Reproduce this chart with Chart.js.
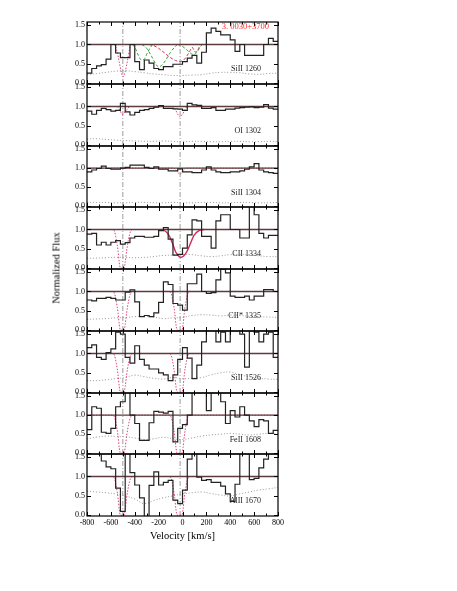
<!DOCTYPE html>
<html>
<head>
<meta charset="utf-8">
<script src="https://cdn.jsdelivr.net/npm/chart.js@4.4.1/dist/chart.umd.min.js"></script>
<style>
  body { margin: 0; background: #fff; width: 457px; height: 591px; position: relative; overflow: hidden;
         font-family: 'Liberation Serif', 'Times New Roman', serif; }
  .panel { position: absolute; left: 0; width: 457px; }
  .axis-title { position: absolute; font-size: 10.5px; color: #000; white-space: nowrap; }
  #ytitle { left: 56px; top: 268px; transform: translate(-50%, -50%) rotate(-90deg); }
  #xtitle { left: 87px; width: 191px; top: 530px; text-align: center; }
</style>
</head>
<body>
<div id="stack"></div>
<div class="axis-title" id="ytitle">Normalized Flux</div>
<div class="axis-title" id="xtitle">Velocity [km/s]</div>

<script>
/* ---- DATA ---- */

// bin centres of the spectra, km/s
const velocity = [-780, -740, -700, -660, -620, -580, -540, -500, -460, -420,
  -380, -340, -300, -260, -220, -180, -140, -100, -60, -20,
  20, 60, 100, 140, 180, 220, 260, 300, 340, 380,
  420, 460, 500, 540, 580, 620, 660, 700, 740, 780];

// grid of the error spectra
const errVelocity = [-800, -720, -640, -560, -480, -400, -320, -240, -160, -80, 0,
  80, 160, 240, 320, 400, 480, 560, 640, 720, 800];

const lineLabels = ['SiII 1260', 'OI 1302', 'SiII 1304', 'CII 1334', 'CII* 1335', 'SiII 1526', 'FeII 1608', 'AlII 1670'];
const objectName = '3. 0030+3700';
const componentVel = [-500, -20];
const continuum = 1.0;

const fluxSiII1260 = [0.26, 0.38, 0.45, 0.48, 0.62, 1.0, 0.78, 0.66, 0.66, 1.0,
  0.56, 0.35, 0.6, 0.52, 0.38, 0.35, 0.43, 0.43, 0.49, 0.49,
  0.56, 0.65, 0.72, 0.52, 0.8, 1.3, 1.42, 1.34, 1.25, 1.25,
  1.12, 0.82, 1.0, 0.72, 0.72, 0.72, 0.72, 1.0, 1.16, 1.08];
const fluxOI1302 = [0.88, 0.8, 0.9, 0.95, 0.92, 0.88, 0.9, 1.08, 0.86, 0.78,
  0.85, 0.9, 0.92, 0.95, 0.98, 1.02, 0.95, 0.95, 0.94, 0.93,
  0.9, 1.08, 1.04, 1.03, 0.95, 0.95, 0.97, 0.9, 0.9, 0.93,
  0.93, 0.96, 0.97, 0.98, 0.99, 0.97, 0.98, 1.05, 0.96, 0.93];
const fluxSiII1304 = [0.9, 0.95, 0.99, 1.05, 0.99, 0.97, 0.97, 1.0, 1.02, 1.08,
  1.08, 1.08, 1.02, 0.99, 1.03, 0.97, 0.97, 0.93, 0.93, 0.98,
  0.9, 0.9, 0.88, 0.88, 0.95, 1.03, 0.95, 0.9, 0.88, 0.88,
  0.9, 0.9, 0.93, 0.97, 1.03, 1.12, 0.95, 0.9, 0.88, 0.86];
const fluxCII1334 = [0.88, 0.9, 0.6, 0.67, 0.6, 0.67, 0.71, 0.62, 0.66, 0.78,
  0.82, 0.82, 0.8, 0.8, 0.82, 0.97, 1.05, 0.75, 0.34, 0.36,
  0.52, 0.86, 1.25, 1.22, 0.82, 0.82, 0.52, 1.22, 1.38, 1.38,
  1.0, 1.0, 0.78, 0.78, 1.62, 1.38, 0.9, 0.78, 0.85, 0.85];
const fluxCIIs1335 = [0.78, 0.76, 0.82, 0.82, 0.85, 0.82, 0.78, 0.78, 0.98, 1.04,
  0.73, 0.35, 0.38, 0.35, 0.45, 0.72, 1.25, 1.18, 0.69, 0.65,
  0.52, 1.2, 1.2, 1.45, 1.0, 0.95, 0.97, 1.3, 1.57, 1.48,
  0.88, 0.85, 0.85, 0.88, 0.78, 0.88, 0.88, 1.05, 1.05, 1.0];
const fluxSiII1526 = [1.15, 1.22, 0.9, 0.85, 1.02, 1.12, 1.55, 1.5, 0.9, 0.75,
  1.2, 0.85, 0.7, 0.6, 0.6, 0.5, 0.45, 0.3, 0.45, 0.85,
  1.15, 0.88, 0.35, 0.7, 1.3, 1.6, 1.6, 1.3, 1.55, 1.3,
  1.6, 1.6, 1.5, 0.65, 1.6, 1.55, 1.3, 1.5, 1.55, 0.9];
const fluxFeII1608 = [0.62, 1.22, 1.18, 0.55, 0.52, 0.65, 1.22, 1.35, 1.6, 1.0,
  0.78, 0.34, 0.34, 0.8, 1.1, 1.08, 1.05, 1.1, 0.3, 0.65,
  0.75, 1.0, 1.6, 1.6, 1.6, 1.12, 1.6, 1.6, 1.35, 0.78,
  1.12, 0.95, 1.22, 1.0, 0.85, 0.7, 0.88, 0.85, 0.52, 0.6];
const fluxAlII1670 = [1.7, 1.7, 1.7, 1.4, 1.25, 1.2, 0.7, 0.1, 1.7, 1.1,
  0.78, 0.45, -0.1, 0.77, 1.12, 0.78, 0.85, 0.9, 0.39, 0.3,
  0.65, 1.45, 1.7, 0.98, 0.9, 0.92, 0.85, 0.85, 0.75, 0.55,
  0.36, 0.8, 1.7, 1.7, 0.92, 0.95, 1.22, 1.45, 1.7, 1.7];

const errSiII1260 = [0.22, 0.25, 0.28, 0.31, 0.32, 0.3, 0.27, 0.24, 0.22, 0.2, 0.2, 0.21, 0.22, 0.26, 0.28, 0.28, 0.27, 0.24, 0.23, 0.25, 0.26];
const errOI1302 = [0.16, 0.17, 0.15, 0.13, 0.12, 0.11, 0.1, 0.1, 0.11, 0.1, 0.09, 0.1, 0.1, 0.09, 0.09, 0.1, 0.1, 0.09, 0.09, 0.1, 0.1];
const errSiII1304 = [0.1, 0.1, 0.1, 0.09, 0.09, 0.1, 0.1, 0.09, 0.09, 0.1, 0.09, 0.09, 0.1, 0.1, 0.09, 0.09, 0.1, 0.1, 0.09, 0.09, 0.1];
const errCII1334 = [0.26, 0.26, 0.27, 0.28, 0.28, 0.27, 0.28, 0.3, 0.33, 0.34, 0.36, 0.35, 0.32, 0.3, 0.32, 0.35, 0.36, 0.35, 0.32, 0.3, 0.3];
const errCIIs1335 = [0.28, 0.29, 0.3, 0.32, 0.33, 0.35, 0.36, 0.34, 0.3, 0.32, 0.33, 0.38, 0.4, 0.39, 0.37, 0.39, 0.38, 0.36, 0.35, 0.34, 0.33];
const errSiII1526 = [0.3, 0.3, 0.32, 0.35, 0.38, 0.44, 0.4, 0.36, 0.34, 0.38, 0.35, 0.36, 0.38, 0.45, 0.5, 0.52, 0.45, 0.4, 0.36, 0.34, 0.33];
const errFeII1608 = [0.38, 0.42, 0.45, 0.44, 0.43, 0.4, 0.36, 0.38, 0.42, 0.38, 0.36, 0.4, 0.45, 0.48, 0.5, 0.52, 0.5, 0.48, 0.5, 0.52, 0.5];
const errAlII1670 = [0.62, 0.6, 0.58, 0.55, 0.5, 0.42, 0.3, 0.38, 0.45, 0.5, 0.55, 0.58, 0.6, 0.56, 0.52, 0.5, 0.55, 0.6, 0.65, 0.68, 0.72];

const modelVelSiII1260 = [-800, -575, -550, -530, -510, -497, -480, -460, -445, -430, 800];
const modelSiII1260 = [1, 1, 0.85, 0.55, 0.25, 0.17, 0.3, 0.6, 0.85, 1, 1];
const fitVelSiII1260 = [-280, -240, -200, -150, -100, -60, -25, 10, 40, 65, 80, 95, 110, 128, 150];
const fitSiII1260 = [1, 0.97, 0.9, 0.78, 0.66, 0.59, 0.56, 0.6, 0.72, 0.85, 0.93, 0.86, 0.8, 0.86, 1];
const comp1Vel = [-420, -395, -370, -345, -320, -295, -270, -250];
const comp1 = [1, 0.9, 0.72, 0.6, 0.62, 0.78, 0.92, 1];
const comp2Vel = [-340, -300, -260, -225, -200, -175, -140, -100, -60, -40];
const comp2 = [1, 0.9, 0.7, 0.5, 0.42, 0.46, 0.6, 0.8, 0.95, 1];
const comp3Vel = [-40, 0, 40, 75, 95, 120, 145, 165];
const comp3 = [1, 0.95, 0.85, 0.76, 0.74, 0.8, 0.92, 1];

const modelVelOI1302 = [-800, -550, -525, -505, -490, -465, -440, -85, -60, -40, -22, 0, 20, 40, 800];
const modelOI1302 = [1, 1, 0.9, 0.8, 0.82, 0.92, 1, 1, 0.92, 0.8, 0.73, 0.8, 0.92, 1, 1];
const modelVelSiII1304 = [-800, -75, -50, -22, 5, 30, 800];
const modelSiII1304 = [1, 1, 0.93, 0.84, 0.93, 1, 1];

const modelVelCII1334 = [-800, -590, -570, -555, -540, -530, -520, -490, -480, -468, -452, -435, -410, 800];
const modelCII1334 = [1, 1, 0.95, 0.75, 0.45, 0.15, 0, 0, 0.15, 0.45, 0.75, 0.95, 1, 1];
const fitVelCII1334 = [-185, -155, -113, -85, -57, -29, -15, 12, 40, 68, 96, 138, 180];
const fitCII1334 = [1, 0.98, 0.85, 0.65, 0.42, 0.3, 0.28, 0.32, 0.45, 0.65, 0.85, 0.97, 1];

// saturated two-component profile (CII*, SiII 1526, FeII, AlII)
const satVel = [-800, -590, -570, -555, -540, -530, -520, -490, -480, -468, -452, -435, -410,
  -115, -95, -80, -65, -55, -45, -5, 5, 15, 30, 45, 65, 800];
const satFlux = [1, 1, 0.95, 0.75, 0.45, 0.15, 0, 0, 0.15, 0.45, 0.75, 0.95, 1,
  1, 0.95, 0.75, 0.45, 0.15, 0, 0, 0.15, 0.45, 0.75, 0.95, 1, 1];

// axis
const velMin = -800, velMax = 800;
const fluxMin = -0.02, fluxMax = 1.58;
const yTickValues = [0, 0.5, 1.0, 1.5];
const xMajorTicks = [-800, -600, -400, -200, 0, 200, 400, 600, 800];
const xMinorTicks = [-700, -500, -300, -100, 100, 300, 500, 700];

/* ---- STYLE ---- */
const PINK = '#e2407a';
const RED = '#d0285a';
const GREEN = '#33a033';
const FONT = "'Liberation Serif', 'Times New Roman', serif";
const panelEdges = [22, 84, 146, 207, 269, 331, 393, 454, 516];
const PAD = 12;
const XAXIS_H = 14;

const pinkDotted = (vel, flux) => ({ vel, flux, color: PINK, width: 1, dash: [1.5, 1.5] });
const panels = [
  { flux: fluxSiII1260, err: errSiII1260, models: [
      pinkDotted(modelVelSiII1260, modelSiII1260),
      { vel: fitVelSiII1260, flux: fitSiII1260, color: RED, width: 1, dash: [3, 2] },
      { vel: comp1Vel, flux: comp1, color: GREEN, width: 1, dash: [3, 2] },
      { vel: comp2Vel, flux: comp2, color: GREEN, width: 1, dash: [3, 2] },
      { vel: comp3Vel, flux: comp3, color: GREEN, width: 1, dash: [3, 2] }] },
  { flux: fluxOI1302, err: errOI1302, models: [pinkDotted(modelVelOI1302, modelOI1302)] },
  { flux: fluxSiII1304, err: errSiII1304, models: [pinkDotted(modelVelSiII1304, modelSiII1304)] },
  { flux: fluxCII1334, err: errCII1334, models: [
      pinkDotted(modelVelCII1334, modelCII1334),
      { vel: fitVelCII1334, flux: fitCII1334, color: RED, width: 1.4, dash: [] }] },
  { flux: fluxCIIs1335, err: errCIIs1335, models: [pinkDotted(satVel, satFlux)] },
  { flux: fluxSiII1526, err: errSiII1526, models: [pinkDotted(satVel, satFlux)] },
  { flux: fluxFeII1608, err: errFeII1608, models: [pinkDotted(satVel, satFlux)] },
  { flux: fluxAlII1670, err: errAlII1670, models: [pinkDotted(satVel, satFlux)] },
];

/* ---- HELPERS ---- */
function toPoints(vel, flux) {
  return vel.map((v, i) => ({ x: v, y: flux[i] }));
}
// histogram: bin centres plus the two outer edges
function toSteps(vel, flux) {
  const pts = toPoints(vel, flux);
  pts.unshift({ x: velMin, y: flux[0] });
  pts.push({ x: velMax, y: flux[flux.length - 1] });
  return pts;
}

// frame, inward ticks and the text inside each panel
const panelFrame = {
  id: 'panelFrame',
  afterDatasetsDraw(chart, args, opts) {
    const { ctx, chartArea: a, scales: { x, y } } = chart;
    ctx.save();
    ctx.strokeStyle = '#000';
    ctx.lineWidth = 1;
    ctx.beginPath();
    xMajorTicks.concat(xMinorTicks).forEach(v => {
      const px = Math.round(x.getPixelForValue(v)) + 0.5;
      const len = xMajorTicks.includes(v) ? 4 : 2.5;
      ctx.moveTo(px, a.top); ctx.lineTo(px, a.top + len);
      ctx.moveTo(px, a.bottom); ctx.lineTo(px, a.bottom - len);
    });
    yTickValues.forEach(v => {
      const py = Math.round(y.getPixelForValue(v)) + 0.5;
      ctx.moveTo(a.left, py); ctx.lineTo(a.left + 4, py);
      ctx.moveTo(a.right, py); ctx.lineTo(a.right - 4, py);
    });
    ctx.stroke();
    ctx.lineWidth = 1.2;
    ctx.strokeRect(a.left, a.top, a.right - a.left, a.bottom - a.top);

    ctx.textAlign = 'right';
    ctx.textBaseline = 'middle';
    ctx.fillStyle = '#222';
    ctx.font = '8px ' + FONT;
    ctx.fillText(opts.label, a.right - 17, a.top + 46.5);
    if (opts.title) {
      ctx.fillStyle = '#ff2d2d';
      ctx.font = '8.5px ' + FONT;
      ctx.fillText(opts.title, a.right - 9, a.top + 5);
    }
    ctx.restore();
  }
};

/* ---- CHARTS ---- */
function buildPanel(p, i) {
  const isLast = i === panels.length - 1;
  const top = panelEdges[i];
  const h = panelEdges[i + 1] - top;
  const canvasH = PAD + h + (isLast ? XAXIS_H : PAD);

  const box = document.createElement('div');
  box.className = 'panel';
  box.style.top = (top - PAD) + 'px';
  box.style.height = canvasH + 'px';
  const canvas = document.createElement('canvas');
  canvas.width = 457;
  canvas.height = canvasH;
  box.appendChild(canvas);
  document.getElementById('stack').appendChild(box);

  // first dataset is drawn on top
  const datasets = [
    { data: toSteps(velocity, p.flux), borderColor: '#222', borderWidth: 1.2, stepped: 'middle' },
    { data: [{ x: velMin, y: continuum }, { x: velMax, y: continuum }], borderColor: '#5e3c3c', borderWidth: 1.3 }
  ];
  p.models.forEach(m => datasets.push({
    data: toPoints(m.vel, m.flux), borderColor: m.color, borderWidth: m.width,
    borderDash: m.dash, cubicInterpolationMode: 'monotone'
  }));
  datasets.push({ data: toPoints(errVelocity, p.err), borderColor: '#8c8c8c', borderWidth: 0.9, borderDash: [1, 2], tension: 0.4 });
  componentVel.forEach(v => datasets.push({
    data: [{ x: v, y: fluxMin }, { x: v, y: fluxMax }], borderColor: '#9c9c9c', borderWidth: 1, borderDash: [5, 2, 1, 2]
  }));

  new Chart(canvas, {
    type: 'line',
    data: { datasets },
    options: {
      responsive: false,
      animation: false,
      layout: { padding: { left: 0, right: 179, top: PAD, bottom: isLast ? 0 : PAD } },
      elements: { point: { radius: 0 }, line: { tension: 0, fill: false } },
      plugins: {
        legend: { display: false },
        tooltip: { enabled: false },
        panelFrame: { label: lineLabels[i], title: i === 0 ? objectName : null }
      },
      scales: {
        x: {
          type: 'linear', min: velMin, max: velMax, display: isLast,
          grid: { display: false, drawTicks: false }, border: { display: false },
          ticks: { stepSize: 200, autoSkip: false, maxRotation: 0, padding: 2, color: '#000', font: { family: FONT, size: 8 } },
          afterFit: s => { s.height = isLast ? XAXIS_H : 0; }
        },
        y: {
          type: 'linear', min: fluxMin, max: fluxMax,
          grid: { display: false, drawTicks: false }, border: { display: false },
          ticks: { autoSkip: false, padding: 2, color: '#000', font: { family: FONT, size: 8 },
                   callback: v => v.toFixed(1) },
          afterBuildTicks: s => { s.ticks = yTickValues.map(v => ({ value: v })); },
          afterFit: s => { s.width = 87; }
        }
      }
    },
    plugins: [panelFrame]
  });
}

panels.forEach(buildPanel);
</script>
</body>
</html>
